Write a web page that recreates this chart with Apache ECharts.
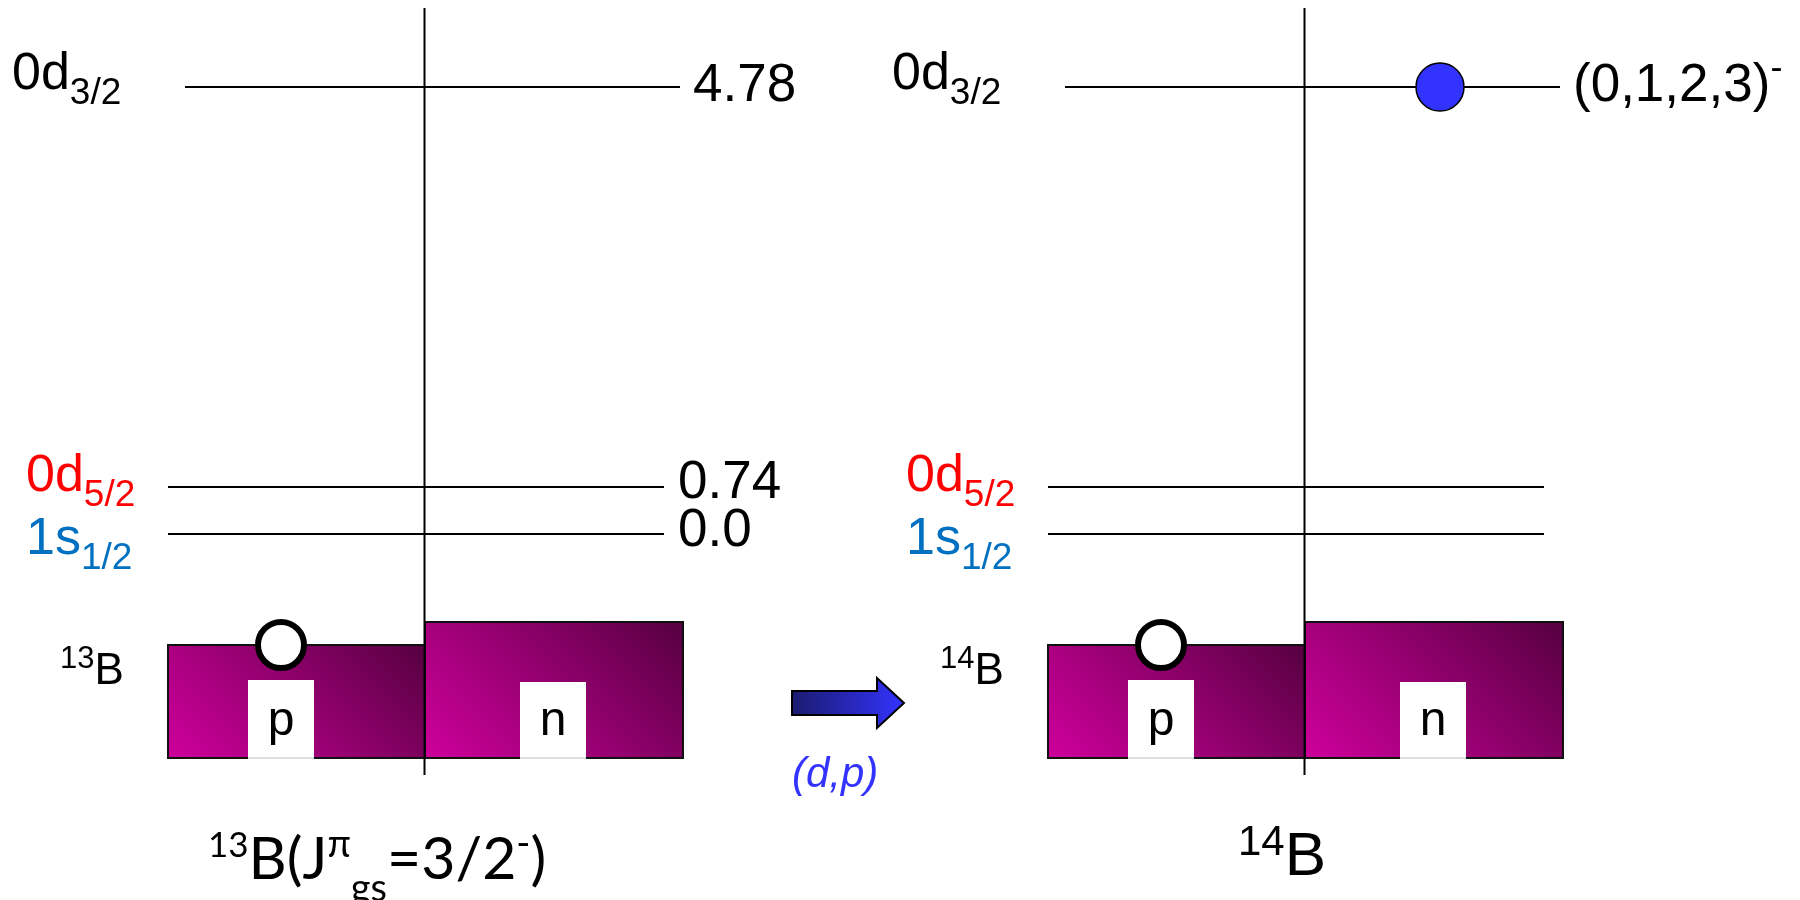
<!DOCTYPE html>
<html>
<head>
<meta charset="utf-8">
<script src="https://cdn.jsdelivr.net/npm/echarts@6.0.0/dist/echarts.min.js"></script>
<style>
html, body { margin: 0; padding: 0; background: #ffffff; }
#chart { width: 1800px; height: 900px; }
</style>
</head>
<body>
<div id="chart"></div>
<script>
// ---------------- data ----------------
const nuclei = ['13B', '14B'];
const groundStateJpi13B = '3/2-';
const orbitals = ['1s1/2', '0d5/2', '0d3/2'];
const energies13B = ['0.0', '0.74', '4.78'];
const spins14B = ['', '', '(0,1,2,3)-'];
const addedNeutron14B = [0, 0, 1];
const nucleons = ['p', 'n'];
const reaction = '(d,p)';

// ---------------- layout & style (diagram units = canvas pixels) ----------------
const SANS = '"Liberation Sans", Arial, sans-serif';
const LATO = 'Lato, "Liberation Sans", sans-serif';
const ORBITAL_COLORS = ['#0070C0', '#FF0000', '#000000'];
const L = {
  shift: 880,
  axisX: 424.5, axisTop: 8, axisBottom: 775,
  levelY: [534, 487, 87],
  levelX0: [168, 168, 185],
  levelX1: [664, 664, 680],
  orbX: [26, 26, 12], orbCY: [540, 477, 75],
  valX: [678, 678, 693], valCY: [531, 483, 86],
  boxX: [[168, 425], [425, 683]], boxTop: [645, 622], boxBottom: 758,
  notchX: [[248, 314], [520, 586]], notchTop: [680, 682],
  nucleonCY: 722,
  hole: { x: 281, y: 645, r: 23 },
  particle: { x: 560, r: 24 },
  side: { x: 60, cy: 672 },
  bottom: [{ x: 208, cy: 860 }, { x: 1238, cy: 858 }],
  arrow: { x0: 792, x1: 877, x2: 904, y: 703, body: 12, head: 25 },
  reactionLabel: { x: 792, cy: 775 }
};

// ---------------- helpers ----------------
const mctx = document.createElement('canvas').getContext('2d');
function textWidth(t, size, family, style) {
  mctx.font = (style || 'normal') + ' ' + size + 'px ' + family;
  return mctx.measureText(t).width;
}
function runs(x, cy, list, family, color) {
  const out = [];
  let cx = x;
  list.forEach(function (r) {
    const fam = r.f || family;
    const st = r.st || 'normal';
    out.push({
      type: 'text',
      style: {
        x: cx, y: cy + (r.dy || 0), text: r.t,
        fontSize: r.s, fontFamily: fam, fontStyle: st,
        fill: r.c || color || '#000', align: 'left', verticalAlign: 'middle'
      }
    });
    cx += textWidth(r.t, r.s, fam, st);
  });
  return out;
}
function splitParity(s) {
  const last = s.slice(-1);
  return (last === '-' || last === '+') ? [s.slice(0, -1), last] : [s, ''];
}
function splitNucleus(s) {
  const m = s.match(/^(\d+)(\D+)$/);
  return [m[1], m[2]];
}

// ---------------- render functions ----------------
function renderCore(params, api) {
  const k = api.value(0), j = api.value(1), dx = k * L.shift;
  const tl = api.coord([L.boxX[j][0] + dx, L.boxTop[j]]);
  const br = api.coord([L.boxX[j][1] + dx, L.boxBottom]);
  const nl = api.coord([L.notchX[j][0] + dx, L.notchTop[j]]);
  const nr = api.coord([L.notchX[j][1] + dx, L.boxBottom]);
  const w = br[0] - tl[0], h = br[1] - tl[1], d = (w + h) / 2;
  // 45-degree diagonal gradient: light magenta bottom-left -> dark purple top-right
  const grad = new echarts.graphic.LinearGradient(tl[0], br[1], tl[0] + d, br[1] - d, [
    { offset: 0, color: '#CE009B' }, { offset: 0.5, color: '#950070' }, { offset: 1, color: '#560040' }
  ], true);
  return {
    type: 'group',
    children: [
      { type: 'rect', shape: { x: tl[0], y: tl[1], width: w, height: h },
        style: { fill: grad, stroke: '#111111', lineWidth: 2 } },
      { type: 'rect', shape: { x: nl[0], y: nl[1], width: nr[0] - nl[0], height: nr[1] - nl[1] + 2 },
        style: { fill: '#ffffff' } },
      { type: 'line', shape: { x1: nl[0], y1: nr[1], x2: nr[0], y2: nr[1] },
        style: { stroke: '#c0c0c0', lineWidth: 1 } },
      { type: 'text', style: { x: (nl[0] + nr[0]) / 2, y: api.coord([0, L.nucleonCY])[1], text: nucleons[j],
        fontSize: 48, fontFamily: SANS, fill: '#000', align: 'center', verticalAlign: 'middle' } }
    ]
  };
}
function renderHole(params, api) {
  const k = api.value(0);
  const c = api.coord([L.hole.x + k * L.shift, L.hole.y]);
  return { type: 'circle', shape: { cx: c[0], cy: c[1], r: L.hole.r },
    style: { fill: '#ffffff', stroke: '#000000', lineWidth: 6 } };
}
function renderAxis(params, api) {
  const k = api.value(0);
  const a = api.coord([L.axisX + k * L.shift, L.axisTop]);
  const b = api.coord([L.axisX + k * L.shift, L.axisBottom]);
  return { type: 'line', shape: { x1: a[0], y1: a[1], x2: b[0], y2: b[1] },
    style: { stroke: '#000000', lineWidth: 2 } };
}
function renderLevel(params, api) {
  const k = api.value(0), i = api.value(1), dx = k * L.shift;
  const a = api.coord([L.levelX0[i] + dx, L.levelY[i]]);
  const b = api.coord([L.levelX1[i] + dx, L.levelY[i]]);
  const children = [{ type: 'line', shape: { x1: a[0], y1: a[1], x2: b[0], y2: b[1] },
    style: { stroke: '#000000', lineWidth: 2 } }];
  const name = orbitals[i];
  const o = api.coord([L.orbX[i] + dx, L.orbCY[i]]);
  children.push.apply(children, runs(o[0], o[1], [
    { t: name.slice(0, 2), s: 52 },
    { t: name.slice(2), s: 37, dy: 19 }
  ], SANS, ORBITAL_COLORS[i]));
  const valText = k === 0 ? energies13B[i] : spins14B[i];
  if (valText) {
    const v = api.coord([L.valX[i] + dx, L.valCY[i]]);
    const parts = k === 0 ? [valText, ''] : splitParity(valText);
    const list = [{ t: parts[0], s: 53 }];
    if (parts[1]) list.push({ t: parts[1], s: 36, dy: -17 });
    children.push.apply(children, runs(v[0], v[1], list, SANS, '#000'));
  }
  return { type: 'group', children: children };
}
function renderParticle(params, api) {
  const k = api.value(0), i = api.value(1);
  const c = api.coord([L.particle.x + k * L.shift, L.levelY[i]]);
  return { type: 'circle', shape: { cx: c[0], cy: c[1], r: L.particle.r },
    style: { fill: '#3333FF', stroke: '#000000', lineWidth: 1.5 } };
}
function renderNucleusLabel(params, api) {
  const k = api.value(0), dx = k * L.shift;
  const parts = splitNucleus(nuclei[k]);
  const s = api.coord([L.side.x + dx, L.side.cy]);
  let children = runs(s[0], s[1], [
    { t: parts[0], s: 31, dy: -13 },
    { t: parts[1], s: 44 }
  ], SANS, '#000');
  const bpos = api.coord([L.bottom[k].x, L.bottom[k].cy]);
  if (k === 0) {
    const jp = splitParity(groundStateJpi13B);
    children = children.concat(runs(bpos[0], bpos[1], [
      { t: parts[0], s: 35, dy: -14 },
      { t: parts[1] + '(J', s: 59 },
      { t: 'π', s: 38, dy: -15 },
      { t: 'gs', s: 38, dy: 29 },
      { t: '=' + jp[0], s: 59 },
      { t: jp[1], s: 38, dy: -16 },
      { t: ')', s: 59 }
    ], LATO, '#000'));
  } else {
    children = children.concat(runs(bpos[0], bpos[1], [
      { t: parts[0], s: 42, dy: -15 },
      { t: parts[1], s: 62 }
    ], SANS, '#000'));
  }
  return { type: 'group', children: children };
}
function renderReaction(params, api) {
  const A = L.arrow;
  const pts = [
    [A.x0, A.y - A.body], [A.x1, A.y - A.body], [A.x1, A.y - A.head], [A.x2, A.y],
    [A.x1, A.y + A.head], [A.x1, A.y + A.body], [A.x0, A.y + A.body]
  ].map(function (p) { return api.coord(p); });
  const grad = new echarts.graphic.LinearGradient(0, 0, 1, 0, [
    { offset: 0, color: '#1B1B6E' }, { offset: 1, color: '#3333FF' }
  ]);
  const t = api.coord([L.reactionLabel.x, L.reactionLabel.cy]);
  return {
    type: 'group',
    children: [
      { type: 'polygon', shape: { points: pts }, style: { fill: grad, stroke: '#000000', lineWidth: 2 } }
    ].concat(runs(t[0], t[1], [{ t: reaction, s: 42, st: 'italic' }], SANS, '#3333FF'))
  };
}

// ---------------- chart ----------------
const chart = echarts.init(document.getElementById('chart'), null, { renderer: 'canvas', width: 1800, height: 900 });
const base = { type: 'custom', coordinateSystem: 'cartesian2d', clip: false, silent: true, animation: false };
chart.setOption({
  animation: false,
  backgroundColor: '#ffffff',
  grid: { left: 0, right: 0, top: 0, bottom: 0 },
  xAxis: { type: 'value', min: 0, max: 1800, show: false },
  yAxis: { type: 'value', min: 0, max: 900, inverse: true, show: false },
  series: [
    Object.assign({}, base, { name: 'cores', renderItem: renderCore,
      data: nuclei.flatMap(function (n, k) { return nucleons.map(function (m, j) { return [k, j]; }); }) }),
    Object.assign({}, base, { name: 'holes', renderItem: renderHole,
      data: nuclei.map(function (n, k) { return [k, 0]; }) }),
    Object.assign({}, base, { name: 'axes', renderItem: renderAxis,
      data: nuclei.map(function (n, k) { return [k, 0]; }) }),
    Object.assign({}, base, { name: 'levels', renderItem: renderLevel,
      data: nuclei.flatMap(function (n, k) { return orbitals.map(function (o, i) { return [k, i]; }); }) }),
    Object.assign({}, base, { name: 'added neutron', renderItem: renderParticle,
      data: addedNeutron14B.map(function (v, i) { return [1, i, v]; }).filter(function (d) { return d[2]; }) }),
    Object.assign({}, base, { name: 'nucleus labels', renderItem: renderNucleusLabel,
      data: nuclei.map(function (n, k) { return [k, 0]; }) }),
    Object.assign({}, base, { name: 'reaction', renderItem: renderReaction, data: [[0, 0]] })
  ]
});
</script>
</body>
</html>
